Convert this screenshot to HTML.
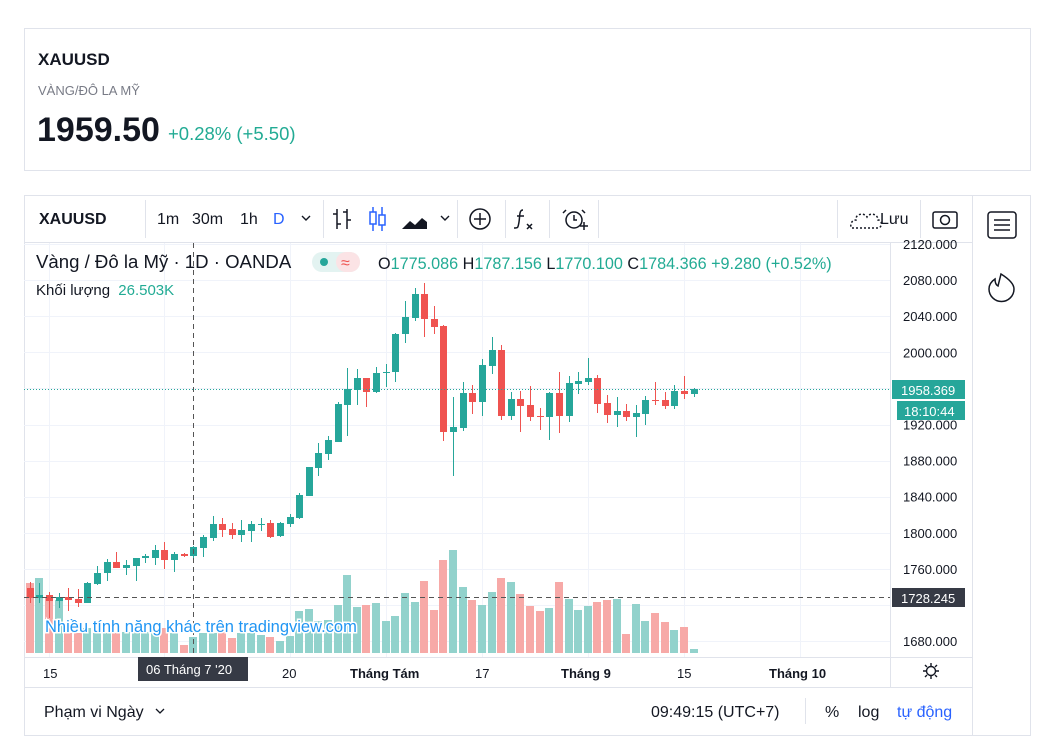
<!DOCTYPE html>
<html><head><meta charset="utf-8"><style>
html,body{margin:0;padding:0;background:#fff;width:1048px;height:751px;overflow:hidden;font-family:"Liberation Sans","Noto Sans CJK SC",sans-serif}
svg{position:absolute;left:0;top:0}
</style></head><body>
<svg id="s" width="1048" height="751" xmlns="http://www.w3.org/2000/svg" font-family="Liberation Sans, sans-serif">
<rect x="24.5" y="28.5" width="1006" height="142" fill="#fff" stroke="#e0e3eb"/>
<text x="38" y="65" font-size="17" font-weight="bold" fill="#131722">XAUUSD</text>
<text x="38" y="95" font-size="13" fill="#787b86">VÀNG/ĐÔ LA MỸ</text>
<text x="37" y="141" font-size="34" font-weight="bold" fill="#131722">1959.50</text>
<text x="168" y="140" font-size="18.5" fill="#22ab94">+0.28% (+5.50)</text>

<rect x="24.5" y="195.5" width="1006" height="540" fill="#fff" stroke="#e0e3eb"/>
<line x1="24" y1="242.5" x2="972" y2="242.5" stroke="#e0e3eb"/>
<line x1="972.5" y1="196" x2="972.5" y2="735" stroke="#e0e3eb"/>
<line x1="24" y1="687.5" x2="972" y2="687.5" stroke="#e0e3eb"/>
<line x1="24" y1="657.5" x2="972" y2="657.5" stroke="#e0e3eb"/>
<line x1="890.5" y1="242" x2="890.5" y2="687" stroke="#e0e3eb"/>
<g stroke="#e0e3eb">
<line x1="145.5" y1="200" x2="145.5" y2="238"/><line x1="323.5" y1="200" x2="323.5" y2="238"/>
<line x1="457.5" y1="200" x2="457.5" y2="238"/><line x1="505.5" y1="200" x2="505.5" y2="238"/>
<line x1="549.5" y1="200" x2="549.5" y2="238"/><line x1="598.5" y1="200" x2="598.5" y2="238"/>
<line x1="837.5" y1="200" x2="837.5" y2="238"/><line x1="920.5" y1="200" x2="920.5" y2="238"/>
</g>
<text x="39" y="224" font-size="16" font-weight="bold" fill="#131722">XAUUSD</text>
<g font-size="16" fill="#131722"><text x="157" y="224">1m</text><text x="192" y="224">30m</text><text x="240" y="224">1h</text></g>
<text x="273" y="224" font-size="16" fill="#2962ff">D</text>
<path d="M302 216l4 4 4-4" stroke="#131722" fill="none" stroke-width="1.4"/>
<path d="M441 216l4 4 4-4" stroke="#131722" fill="none" stroke-width="1.4"/>
<g stroke="#131722" fill="none" stroke-width="1.5">
<path d="M337 209v20M333 214h4M337 224h4M347 209v20M343 212h4M347 220h4"/>
<circle cx="480" cy="219" r="10"/><path d="M474 219h12M480 213v12"/>
<path d="M523 210c-4 0-3 6-4 12s-1 6-5 6M517 216h7" /><path d="M527 224l5 5M532 224l-5 5"/>
<circle cx="574" cy="220" r="8"/><path d="M574 215v5h3M566 210l-3 3M582 210l3 3M580 226h8M584 222v8"/>
<rect x="933" y="212" width="24" height="16" rx="2"/><circle cx="945" cy="220" r="4.5"/>
<path d="M852 228h26c4 0 5-8 0-8c0-6-8-8-11-3c-3-5-12-3-11 3c-6 0-6 8-4 8" stroke-dasharray="2 2"/>
<rect x="988" y="212" width="28" height="26" rx="3"/><path d="M994 220h16M994 225h16M994 230h16"/>
<path d="M1001 274c8 5 13 10 13 15a12 12 0 0 1-25 0c0-5 3-8 6-10c0 4 1 6 3 7c1-4 2-8 3-12z"/>
</g>
<g stroke="#2962ff" fill="none" stroke-width="1.5"><path d="M373 207v24M382 207v24"/><rect x="370" y="212" width="6" height="12" fill="#fff"/><rect x="379" y="215" width="6" height="10" fill="#fff"/></g>
<path d="M402 229l8-8 5 4 7-7 5 4v7z" fill="#131722"/>
<text x="880" y="224" font-size="16" fill="#131722">Lưu</text>

<g id="grid" stroke="#f0f3fa"></g>
<g id="vol"></g>
<g id="cdl"></g>

<line x1="193.5" y1="243" x2="193.5" y2="657" stroke="#555" stroke-dasharray="5 4"/>
<line x1="24" y1="597.5" x2="890" y2="597.5" stroke="#555" stroke-dasharray="5 4"/>
<line x1="24" y1="389.5" x2="890" y2="389.5" stroke="#26a69a" stroke-dasharray="1 2"/>

<text x="36" y="268" font-size="18.6" fill="#131722">Vàng / Đô la Mỹ · 1D · OANDA</text>
<rect x="312" y="252" width="48" height="20" rx="10" fill="#e3f3f1"/>
<rect x="336" y="252" width="24" height="20" rx="10" fill="#fbe3e5"/>
<circle cx="324" cy="262" r="4" fill="#26a69a"/>
<text x="341" y="268" font-size="16" fill="#ef5350">≈</text>
<text x="378" y="269" font-size="16.2" fill="#22ab94"><tspan fill="#131722">O</tspan>1775.086 <tspan fill="#131722">H</tspan>1787.156 <tspan fill="#131722">L</tspan>1770.100 <tspan fill="#131722">C</tspan>1784.366 +9.280 (+0.52%)</text>
<text x="36" y="295" font-size="15" fill="#131722">Khối lượng <tspan fill="#22ab94" dx="4">26.503K</tspan></text>

<text x="45" y="632" font-size="16.5" fill="#2196f3" stroke="#fff" stroke-width="3" paint-order="stroke">Nhiều tính năng khác trên tradingview.com</text>

<g id="pax" font-size="13" fill="#131722"></g>
<rect x="892" y="380" width="73" height="19" fill="#26a69a"/>
<text x="901" y="395" font-size="13" fill="#fff">1958.369</text>
<rect x="897" y="401" width="68" height="19" fill="#26a69a"/>
<text x="904" y="416" font-size="13" fill="#fff">18:10:44</text>
<rect x="892" y="588" width="73" height="19" fill="#363a45"/>
<text x="901" y="603" font-size="13" fill="#fff">1728.245</text>

<g font-size="13" fill="#131722">
<text x="43" y="678">15</text><text x="282" y="678">20</text>
<text x="350" y="678" font-weight="bold">Tháng Tám</text><text x="475" y="678">17</text>
<text x="561" y="678" font-weight="bold">Tháng 9</text><text x="677" y="678">15</text>
<text x="769" y="678" font-weight="bold">Tháng 10</text>
</g>
<rect x="138" y="657" width="110" height="24" fill="#363a45"/>
<text x="146" y="674" font-size="13" fill="#fff">06 Tháng 7 '20</text>
<g stroke="#131722" fill="none" stroke-width="1.4"><circle cx="931" cy="671" r="4.5"/><path d="M931 663v3M931 676v3M923 671h3M936 671h3M925 665l2 2M935 675l2 2M937 665l-2 2M925 677l2-2"/></g>

<text x="44" y="717" font-size="16" fill="#131722">Phạm vi Ngày</text>
<path d="M156 709l4 4 4-4" stroke="#131722" fill="none" stroke-width="1.3"/>
<text x="651" y="717" font-size="16" fill="#131722">09:49:15 (UTC+7)</text>
<line x1="805.5" y1="698" x2="805.5" y2="724" stroke="#e0e3eb"/>
<text x="825" y="717" font-size="16" fill="#131722">%</text>
<text x="858" y="717" font-size="16" fill="#131722">log</text>
<text x="897" y="717" font-size="16" fill="#2962ff">tự động</text>
</svg>
<script>
var NS="http://www.w3.org/2000/svg";
function el(p,t,a){var e=document.createElementNS(NS,t);for(var k in a)e.setAttribute(k,a[k]);document.getElementById(p).appendChild(e);return e;}
for(var i=0;i<=11;i++){var y=Math.round(244+i*36.1)+.5;el("grid","line",{x1:24,x2:890,y1:y,y2:y});}
[49,164,290,386,482,588,684,800].forEach(function(x){el("grid","line",{x1:x+.5,x2:x+.5,y1:243,y2:657});});
for(var i=0;i<=11;i++){var p=2120-i*40;if(p==1960||p==1720)continue;var y=244+i*36.1;var t=el("pax","text",{x:903,y:y+5});t.textContent=p+".000";}
var G="#26a69a",R="#ef5350";
var C=[[30,588,598,582,603,R],[39,595,598,583,603,G],[49,595,601,592,618,R],[59,597,601,593,608,G],[68,597,600,588,611,R],[78,599,603,589,607,R],[87,583,603,582,603,G],[97,573,584,566,585,G],[107,562,573,559,581,G],[116,562,568,552,568,R],[126,565,568,560,575,G],[136,558,566,558,581,G],[145,556,558,554,563,G],[155,550,558,545,565,G],[164,550,560,542,569,R],[174,554,560,552,572,G],[184,554,556,553,557,R],[193,547,556,546,560,G],[203,537,548,535,557,G],[213,524,538,516,541,G],[222,524,530,518,537,R],[232,529,535,523,539,R],[241,530,535,520,542,G],[251,524,531,521,542,G],[261,524,525,518,531,G],[270,523,537,520,538,R],[280,523,536,522,537,G],[290,517,524,514,527,G],[299,495,518,493,519,G],[309,467,496,467,496,G],[318,453,468,443,476,G],[328,440,454,436,460,G],[338,404,442,402,442,G],[347,389,405,368,436,G],[357,378,390,369,405,G],
[366,378,392,378,407,R],[376,373,392,367,393,G],[386,372,373,364,387,G],[395,334,372,333,382,G],[405,317,334,301,343,G],[415,294,318,288,321,G],[424,294,319,283,337,R],[434,319,327,306,334,R],[443,326,432,325,441,R],[453,427,432,397,476,G],[463,393,428,382,431,G],[472,393,402,385,414,R],[482,365,402,359,416,G],[492,350,366,337,374,G],[501,350,416,345,420,R],[511,399,416,392,420,G],[520,399,406,391,432,R],[530,405,417,386,421,R],[540,416,417,408,430,R],[549,393,417,392,440,G],[559,393,416,372,433,R],[569,383,416,376,422,G],[578,381,384,372,394,G],[588,378,382,358,385,G],[597,378,404,375,413,R],[607,403,415,395,423,R],[617,411,415,397,427,G],[626,411,417,404,421,R],[636,413,417,405,437,G],[645,400,414,396,425,G],[655,400,401,382,405,R],[665,400,406,392,409,R],[674,391,406,385,409,G],[684,391,394,376,399,R],[694,389,394,388,397,G]];
var V=[583,578,597,600,633,633,628,633,633,633,632,630,632,632,628,633,645,637,633,633,632,638,633,633,635,637,641,636,611,609,621,620,605,575,607,605,603,621,616,593,602,581,610,560,550,587,600,605,592,578,582,594,606,611,608,582,599,610,606,602,600,599,634,604,621,613,622,630,627,649];
C.forEach(function(c,i){
 var vc=c[5]==G?"#92d2cc":"#f7a9a7";
 el("vol","rect",{x:c[0]-4,y:V[i],width:8,height:653-V[i],fill:vc});
 el("cdl","line",{x1:c[0]+.5,x2:c[0]+.5,y1:c[3],y2:c[4],stroke:c[5],"stroke-width":1});
 el("cdl","rect",{x:c[0]-3,y:c[1],width:7,height:Math.max(1,c[2]-c[1]),fill:c[5]});
});
</script>
</body></html>
